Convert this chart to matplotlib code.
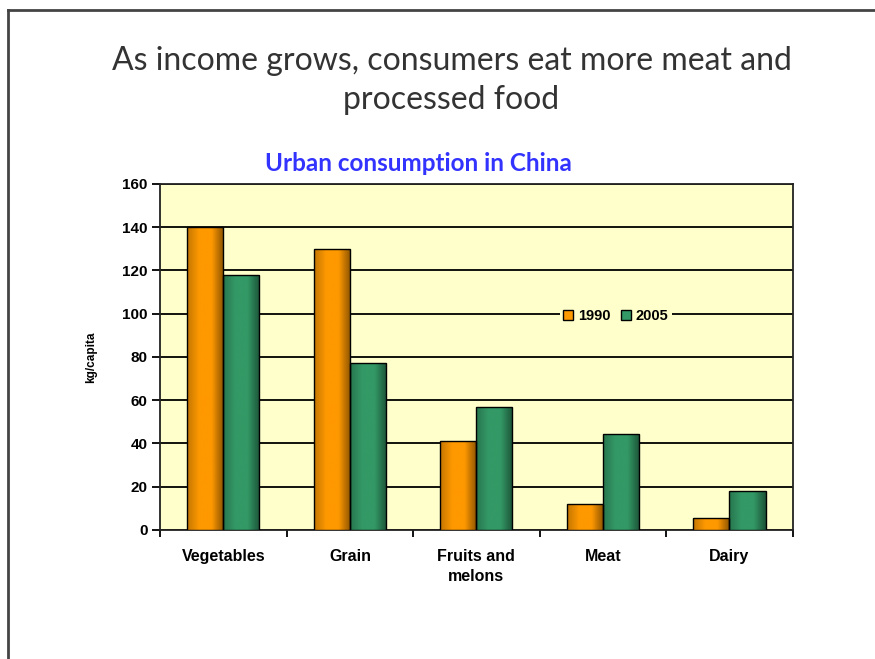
import numpy as np
import matplotlib
matplotlib.use("Agg")
import matplotlib.pyplot as plt
from matplotlib.colors import LinearSegmentedColormap
from matplotlib.lines import Line2D
from matplotlib.patches import Patch

categories = ["Vegetables", "Grain", "Fruits and\nmelons", "Meat", "Dairy"]
series_names = ["1990", "2005"]
values_1990 = [140, 130, 41, 12, 5.5]
values_2005 = [118, 77, 57, 44.5, 18]
y_ticks = [0, 20, 40, 60, 80, 100, 120, 140, 160]

orange = "#FF9900"
green = "#339966"


def shade_bar(ax, bar, base):
    # horizontal gradient: a bit darker on the left edge, darker again to the right
    dark = np.array(matplotlib.colors.to_rgb(base)) * 0.55
    cmap = LinearSegmentedColormap.from_list("g", [dark * 1.4, base, base, dark])
    x0, y0 = bar.get_x(), bar.get_y()
    w, h = bar.get_width(), bar.get_height()
    grad = np.linspace(0, 1, 64).reshape(1, -1)
    im = ax.imshow(grad, cmap=cmap, aspect="auto", extent=(x0, x0 + w, y0, y0 + h),
                   zorder=bar.get_zorder() - 0.1, interpolation="bicubic")
    im.set_clip_path(bar)


fig = plt.figure(figsize=(8.75, 6.59), dpi=100)
ax = fig.add_axes([0.183, 0.196, 0.723, 0.525])
ax.set_facecolor("#FFFFCC")

x = np.arange(len(categories))
w = 0.285
bars1 = ax.bar(x - w / 2, values_1990, w, color="none", edgecolor="black", linewidth=1.0, zorder=3)
bars2 = ax.bar(x + w / 2, values_2005, w, color="none", edgecolor="black", linewidth=1.0, zorder=3)
for b in bars1:
    shade_bar(ax, b, orange)
for b in bars2:
    shade_bar(ax, b, green)

ax.set_xlim(-0.5, len(categories) - 0.5)
ax.set_ylim(0, 160)
ax.set_yticks(y_ticks)
ax.yaxis.grid(True, color="black", linewidth=1.3)
ax.set_axisbelow(True)

ax.set_xticks(x)
ax.set_xticklabels(categories, fontsize=11.5, fontweight="bold", family="Liberation Sans",
                   linespacing=1.4)
ax.tick_params(axis="x", which="major", length=0, pad=14)
ax.set_xticks(np.arange(-0.5, len(categories)), minor=True)
ax.tick_params(axis="x", which="minor", length=5, width=1.3, direction="out")
ax.tick_params(axis="y", length=6, width=1.3, direction="out", pad=3)
for lab in ax.get_yticklabels():
    lab.set_fontsize(11)
    lab.set_fontweight("bold")
    lab.set_family("Liberation Sans")

for s in ax.spines.values():
    s.set_linewidth(1.3)
    s.set_color("#222222")

ax.set_ylabel("kg/capita", fontsize=8.5, fontweight="bold", family="Liberation Sans",
              labelpad=18)

handles = [Patch(facecolor=orange, edgecolor="black", label=series_names[0]),
           Patch(facecolor=green, edgecolor="black", label=series_names[1])]
leg = ax.legend(handles=handles, ncol=2, loc="center", bbox_to_anchor=(0.72, 0.618),
                frameon=True, fontsize=10.5, handlelength=0.7, handleheight=0.7,
                handletextpad=0.35, columnspacing=0.7, borderpad=0.2, borderaxespad=0,
                )
leg.get_frame().set_facecolor("#FFFFCC")
leg.get_frame().set_edgecolor("none")
leg.get_frame().set_alpha(1)
for t in leg.get_texts():
    t.set_fontweight("bold")
    t.set_family("Liberation Sans")

fig.text(0.516, 0.878, "As income grows, consumers eat more meat and\nprocessed food",
         ha="center", va="center", fontsize=23, family="Lato", color="#333333",
         linespacing=1.4)
fig.text(0.478, 0.752, "Urban consumption in China", ha="center", va="center",
         fontsize=17.5, fontweight="bold", family="Lato", color="#3333FF")

# page frame on the left and top
fig.add_artist(Line2D([0.009, 0.009], [0, 0.985], transform=fig.transFigure,
                      color="#444444", linewidth=2))
fig.add_artist(Line2D([0.009, 1], [0.985, 0.985], transform=fig.transFigure,
                      color="#444444", linewidth=2))

fig.savefig("out.png", dpi=100)
